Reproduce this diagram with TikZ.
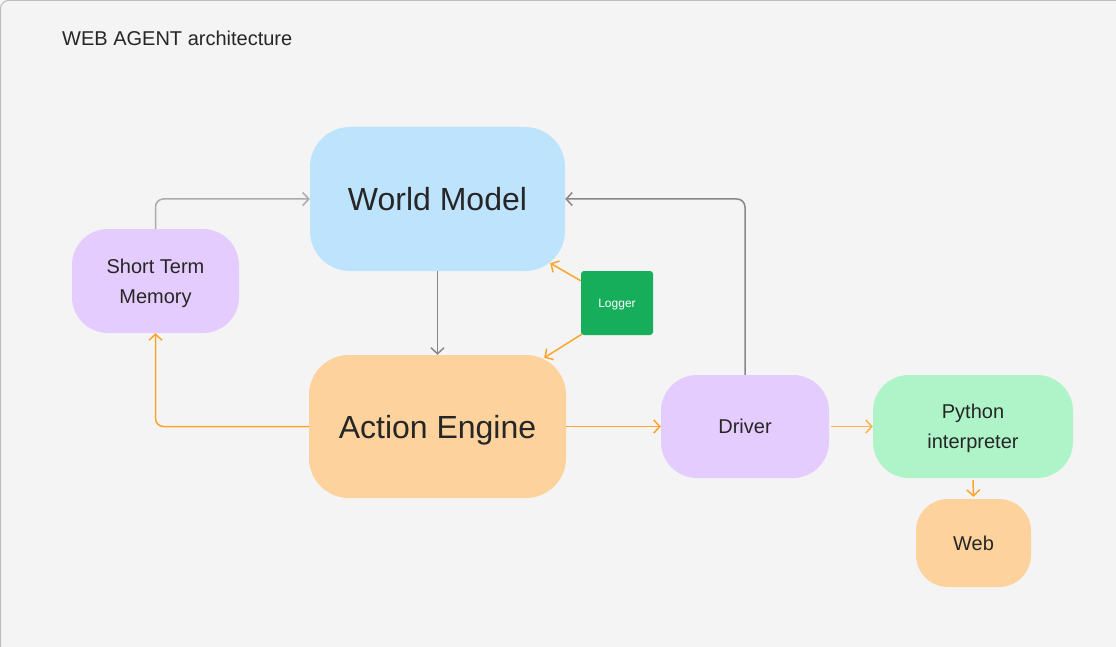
\documentclass[tikz,border=0pt]{standalone}
\usepackage{fontspec}
\setmainfont{Liberation Sans}
\usetikzlibrary{arrows.meta, positioning}
\definecolor{canvasgray}{HTML}{F4F4F4}
\definecolor{framegray}{HTML}{BDBDBD}
\definecolor{skyblue}{HTML}{BEE3FD}
\definecolor{lavender}{HTML}{E5CCFE}
\definecolor{peach}{HTML}{FDD29C}
\definecolor{mint}{HTML}{AEF4C8}
\definecolor{loggergreen}{HTML}{17AE5B}
\definecolor{flowline}{HTML}{FFA52C}
\definecolor{lightflow}{HTML}{FFB54F}
\definecolor{softgray}{HTML}{ABABAB}
\definecolor{darkgray}{HTML}{878787}
\definecolor{inktext}{HTML}{262626}

\begin{document}
\begin{tikzpicture}[x=1pt, y=-1pt,
    every node/.style={font=\fontsize{20}{30}\selectfont, text=inktext, align=center, inner sep=0pt, text depth=0pt},
    block/.style={rectangle, rounded corners=#1, minimum width=0pt},
    big/.style={font=\fontsize{32}{38}\selectfont},
    link/.style={line width=1.5pt, -{Straight Barb[length=6pt, width=13pt, line width=1.5pt]}, rounded corners=8pt}]
    \useasboundingbox (0,0) rectangle (1116,647);
    \fill[canvasgray] (0,0) rectangle (1116,647);
    \draw[framegray, line width=1pt, rounded corners=8pt] (0.5,0.5) rectangle (1140,670);

    \node[anchor=base west] (title) at (62,46) {WEB AGENT architecture};

    \node[block=40pt, fill=skyblue, minimum width=255pt, minimum height=144pt, big] (wm) at (437.5,199) {World Model};
    \node[block=40pt, fill=peach, minimum width=257pt, minimum height=143pt, big] (ae) at (437.5,426.5) {Action Engine};
    \node[block=36pt, fill=lavender, minimum width=167pt, minimum height=104pt] (stm) at (155.5,281) {Short Term\\Memory};
    \node[block=3pt, fill=loggergreen, minimum width=72pt, minimum height=64pt, font=\fontsize{12}{14}\selectfont, text=white] (lg) at (617,303) {Logger};
    \node[block=36pt, fill=lavender, minimum width=168pt, minimum height=103pt] (drv) at (745,426.5) {Driver};
    \node[block=36pt, fill=mint, minimum width=200pt, minimum height=103pt] (py) at (973,426.5) {Python\\interpreter};
    \node[block=32pt, fill=peach, minimum width=115pt, minimum height=88pt] (web) at (973.5,543) {Web};

    % memory and driver feed the world model
    \draw[link, softgray] (stm.north) |- (wm.west);
    \draw[link, darkgray] (drv.north) |- (wm.east);
    \draw[link, darkgray] (wm.south) -- (ae.north);

    % action flow
    \draw[link, flowline] (ae.west) -| (stm.south);
    \draw[link, flowline] (ae.east) -- (drv.west);
    \draw[link, lightflow] ([xshift=2pt]drv.east) -- (py.west);
    \draw[link, flowline] ([yshift=-2pt]py.south) -- ([yshift=2pt]web.north);

    % logger
    \draw[link, flowline] ([yshift=-10pt]lg.north west) -- ([xshift=-15pt, yshift=8pt]wm.south east);
    \draw[link, flowline] ([xshift=1pt, yshift=1pt]lg.south west) -- ([xshift=-22pt, yshift=-3pt]ae.north east);
\end{tikzpicture}
\end{document}
